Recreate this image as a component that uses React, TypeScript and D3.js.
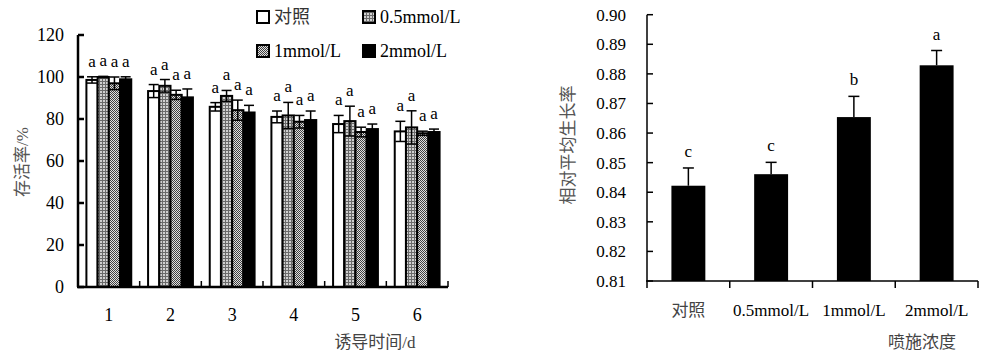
import * as d3 from "d3";

const W = 984;
const H = 358;

// left chart: survival rate by induction day
const days = ["1", "2", "3", "4", "5", "6"];
const series = ["对照", "0.5mmol/L", "1mmol/L", "2mmol/L"];
const survival = [
  [98.6, 100, 97, 98.9],
  [93.3, 95.8, 91.5, 90.3],
  [85.8, 91, 84.2, 83.1],
  [81, 81.7, 78.7, 79.5],
  [77.6, 79, 73.8, 75.2],
  [74.1, 76, 73.2, 73.8],
];
const survivalErr = [
  [1.5, 0.3, 3, 1.2],
  [3.1, 3, 2.2, 4],
  [2, 2.6, 4.8, 3.4],
  [2.8, 6.2, 3, 4.3],
  [4.1, 7.1, 2.3, 2.4],
  [4.8, 7.9, 1, 1.4],
];
const survivalSig = [
  ["a", "a", "a", "a"],
  ["a", "a", "a", "a"],
  ["a", "a", "a", "a"],
  ["a", "a", "a", "a"],
  ["a", "a", "a", "a"],
  ["a", "a", "a", "a"],
];
const leftTicks = [0, 20, 40, 60, 80, 100, 120];

// right chart: relative mean growth rate by spray concentration
const concs = ["对照", "0.5mmol/L", "1mmol/L", "2mmol/L"];
const growth = [0.8422, 0.8461, 0.8654, 0.8829];
const growthErr = [0.006, 0.004, 0.007, 0.005];
const growthSig = ["c", "c", "b", "a"];
const rightTicks = [0.81, 0.82, 0.83, 0.84, 0.85, 0.86, 0.87, 0.88, 0.89, 0.9];

const FONT = "Liberation Serif, Times New Roman, DejaVu Serif, Noto Sans CJK SC, serif";
const fills = ["#fff", "url(#grid)", "url(#check)", "#000"];

export default function App() {
  // left scales
  const xL = d3.scaleBand<string>().domain(days).range([78, 448]);
  const xIn = d3
    .scaleBand<string>()
    .domain(series)
    .range([0, xL.bandwidth()])
    .paddingInner(0)
    .paddingOuter(0.75);
  const yL = d3.scaleLinear().domain([0, 120]).range([287, 35]);

  // right scales
  const xR = d3
    .scaleBand<string>()
    .domain(concs)
    .range([647, 978])
    .paddingInner(0.59)
    .paddingOuter(0.295);
  const yR = d3.scaleLinear().domain([0.81, 0.9]).range([281, 14.7]);

  const leftBounds = days.map((d) => xL(d)! + xL.step());
  const rightBounds = concs.map((c, i) => xR.range()[0] + xR.step() * (i + 1));

  return (
    <svg
      width={W}
      height={H}
      style={{ position: "absolute", left: 0, top: 0, background: "#fff", fontFamily: FONT }}
    >
      <defs>
        <pattern id="grid" width="3" height="3" patternUnits="userSpaceOnUse">
          <rect width="3" height="3" fill="#d0d0d0" />
          <rect width="3" height="1" fill="#6a6a6a" />
          <rect width="1" height="3" fill="#6a6a6a" />
        </pattern>
        <pattern id="check" width="2" height="2" patternUnits="userSpaceOnUse">
          <rect width="2" height="2" fill="#e0e0e0" />
          <rect width="1" height="1" fill="#404040" />
          <rect x="1" y="1" width="1" height="1" fill="#404040" />
        </pattern>
      </defs>

      {/* ---------- left chart ---------- */}
      <g>
        {days.map((d, i) =>
          series.map((s, j) => {
            const x = xL(d)! + xIn(s)!;
            const bw = xIn.bandwidth();
            const v = survival[i][j];
            const e = survivalErr[i][j];
            const cx = x + bw / 2;
            return (
              <g key={d + s}>
                <rect
                  x={x}
                  y={yL(v)}
                  width={bw}
                  height={yL(0) - yL(v)}
                  fill={fills[j]}
                  stroke="#000"
                  strokeWidth={2}
                />
                <line x1={cx} x2={cx} y1={yL(v - e)} y2={yL(v + e)} stroke="#000" strokeWidth={1.5} />
                <line x1={cx - 5} x2={cx + 5} y1={yL(v + e)} y2={yL(v + e)} stroke="#000" strokeWidth={1.5} />
                <line x1={cx - 5} x2={cx + 5} y1={yL(v - e)} y2={yL(v - e)} stroke="#000" strokeWidth={1.5} />
                <text x={cx} y={yL(v + e) - 10} textAnchor="middle" fontSize={17}>
                  {survivalSig[i][j]}
                </text>
              </g>
            );
          })
        )}
        {/* axes */}
        <line x1={78} x2={78} y1={yL(120)} y2={yL(0)} stroke="#000" strokeWidth={2.5} />
        <line x1={77} x2={448} y1={yL(0)} y2={yL(0)} stroke="#000" strokeWidth={2.5} />
        {leftTicks.map((t) => (
          <g key={t}>
            <line x1={78} x2={84} y1={yL(t)} y2={yL(t)} stroke="#000" strokeWidth={2.5} />
            <text x={64} y={yL(t)} dy="0.35em" textAnchor="end" fontSize={18}>
              {t}
            </text>
          </g>
        ))}
        {leftBounds.map((b, i) => (
          <line key={i} x1={b} x2={b} y1={yL(0)} y2={yL(0) - 6} stroke="#000" strokeWidth={1.5} />
        ))}
        {days.map((d) => (
          <text key={d} x={xL(d)! + xL.bandwidth() / 2} y={315} dy="0.35em" textAnchor="middle" fontSize={18}>
            {d}
          </text>
        ))}
        <text x={375} y={342} dy="0.35em" textAnchor="middle" fontSize={17} fill="#444">
          诱导时间/d
        </text>
        <text
          transform="translate(22,162) rotate(-90)"
          dy="0.35em"
          textAnchor="middle"
          fontSize={17}
          fill="#555"
        >
          存活率/%
        </text>

        {/* legend */}
        {series.map((s, j) => {
          const lx = j % 2 === 0 ? 257 : 363;
          const ly = j < 2 ? 17 : 51;
          return (
            <g key={s}>
              <rect x={lx} y={ly - 6} width={12} height={12} fill={fills[j]} stroke="#000" strokeWidth={2} />
              <text x={lx + 17} y={ly} dy="0.35em" fontSize={18} fill={j === 0 ? "#333" : "#000"}>
                {s}
              </text>
            </g>
          );
        })}
      </g>

      {/* ---------- right chart ---------- */}
      <g>
        {concs.map((c, i) => {
          const x = xR(c)!;
          const bw = xR.bandwidth();
          const cx = x + bw / 2;
          const v = growth[i];
          const e = growthErr[i];
          return (
            <g key={c}>
              <rect x={x} y={yR(v)} width={bw} height={yR(0.81) - yR(v)} fill="#000" />
              <line x1={cx} x2={cx} y1={yR(v)} y2={yR(v + e)} stroke="#000" strokeWidth={1.5} />
              <line x1={cx - 5.5} x2={cx + 5.5} y1={yR(v + e)} y2={yR(v + e)} stroke="#000" strokeWidth={1.5} />
              <text x={cx} y={yR(v + e) - 11} textAnchor="middle" fontSize={17}>
                {growthSig[i]}
              </text>
            </g>
          );
        })}
        <line x1={647} x2={647} y1={yR(0.9)} y2={yR(0.81) + 7} stroke="#000" strokeWidth={1.5} />
        <line x1={646} x2={978} y1={yR(0.81)} y2={yR(0.81)} stroke="#000" strokeWidth={1.5} />
        {rightTicks.map((t) => (
          <g key={t}>
            <line x1={647} x2={653} y1={yR(t)} y2={yR(t)} stroke="#000" strokeWidth={1.5} />
            <text x={626} y={yR(t)} dy="0.35em" textAnchor="end" fontSize={17}>
              {t.toFixed(2)}
            </text>
          </g>
        ))}
        {rightBounds.map((b, i) => (
          <line key={i} x1={b} x2={b} y1={yR(0.81)} y2={yR(0.81) + 7} stroke="#000" strokeWidth={1.5} />
        ))}
        {concs.map((c, i) => (
          <text
            key={c}
            x={xR(c)! + xR.bandwidth() / 2}
            y={310}
            dy="0.35em"
            textAnchor="middle"
            fontSize={17}
            fill={i === 0 ? "#444" : "#000"}
          >
            {c}
          </text>
        ))}
        <text x={922} y={342} dy="0.35em" textAnchor="middle" fontSize={17} fill="#444">
          喷施浓度
        </text>
        <text
          transform="translate(568,145) rotate(-90)"
          dy="0.35em"
          textAnchor="middle"
          fontSize={17}
          fill="#555"
        >
          相对平均生长率
        </text>
      </g>
    </svg>
  );
}
